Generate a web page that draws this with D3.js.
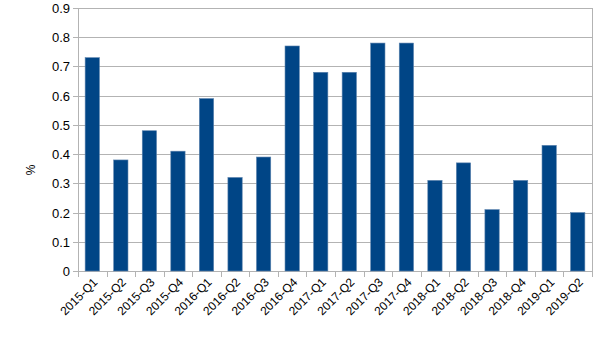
<!DOCTYPE html>
<html>
<head>
<meta charset="utf-8">
<script src="https://cdn.jsdelivr.net/npm/d3@7"></script>
<style>
  body { margin: 0; background: #fff; }
  text { font-family: "Liberation Sans", Arial, sans-serif; fill: #000; }
</style>
</head>
<body>
<svg id="chart" width="605" height="340"></svg>
<script>
// quarters on the x axis
const quarters = ["2015-Q1", "2015-Q2", "2015-Q3", "2015-Q4", "2016-Q1", "2016-Q2",
  "2016-Q3", "2016-Q4", "2017-Q1", "2017-Q2", "2017-Q3", "2017-Q4",
  "2018-Q1", "2018-Q2", "2018-Q3", "2018-Q4", "2019-Q1", "2019-Q2"];
// percent values
const values = [0.73, 0.38, 0.48, 0.41, 0.59, 0.32, 0.39, 0.77, 0.68, 0.68,
  0.78, 0.78, 0.31, 0.37, 0.21, 0.31, 0.43, 0.20];
const yTicks = [0, 0.1, 0.2, 0.3, 0.4, 0.5, 0.6, 0.7, 0.8, 0.9];

const svg = d3.select("#chart");
const plotLeft = 78, plotRight = 592, plotTop = 8, plotBottom = 271;
const grid = "#b3b3b3";

const x = d3.scaleBand().domain(quarters).range([plotLeft, plotRight]).paddingInner(0.5).paddingOuter(0.25);
const y = d3.scaleLinear().domain([0, 0.9]).range([plotBottom, plotTop]);

// horizontal grid lines
svg.append("g").selectAll("line").data(yTicks).enter()
  .append("line")
  .attr("x1", plotLeft - 5).attr("x2", plotRight)
  .attr("y1", d => Math.round(y(d)) + 0.5).attr("y2", d => Math.round(y(d)) + 0.5)
  .attr("stroke", grid).attr("stroke-width", 1);

// frame (left + right)
svg.append("line").attr("x1", plotLeft + 0.5).attr("x2", plotLeft + 0.5).attr("y1", plotTop).attr("y2", plotBottom)
  .attr("stroke", grid);
svg.append("line").attr("x1", plotRight + 0.5).attr("x2", plotRight + 0.5).attr("y1", plotTop).attr("y2", plotBottom + 6)
  .attr("stroke", grid);

// x tick marks at category boundaries
const step = (plotRight - plotLeft) / quarters.length;
svg.append("g").selectAll("line").data(d3.range(quarters.length + 1)).enter()
  .append("line")
  .attr("x1", i => Math.round(plotLeft + i * step) + 0.5).attr("x2", i => Math.round(plotLeft + i * step) + 0.5)
  .attr("y1", plotBottom).attr("y2", plotBottom + 6)
  .attr("stroke", grid);

// bars
svg.append("g").selectAll("rect").data(values).enter()
  .append("rect")
  .attr("x", (d, i) => x(quarters[i]))
  .attr("y", d => y(d))
  .attr("width", x.bandwidth())
  .attr("height", d => plotBottom - y(d))
  .attr("fill", "#004586")
  .attr("stroke", "#5a82ad")
  .attr("stroke-width", 0.6);

// y tick labels
svg.append("g").selectAll("text").data(yTicks).enter()
  .append("text")
  .attr("x", 70).attr("y", d => y(d) + 5)
  .attr("text-anchor", "end")
  .attr("font-size", 13)
  .text(d => d === 0 ? "0" : d3.format(".1f")(d));

// x tick labels, rotated
svg.append("g").selectAll("text").data(quarters).enter()
  .append("text")
  .attr("transform", d => `translate(${x(d) + x.bandwidth() / 2 + 6},${plotBottom + 12}) rotate(-45)`)
  .attr("text-anchor", "end")
  .attr("font-size", 12)
  .text(d => d);

// y axis title
svg.append("text")
  .attr("transform", "translate(35,170) rotate(-90)")
  .attr("text-anchor", "middle")
  .attr("font-size", 12)
  .text("%");
</script>
</body>
</html>
